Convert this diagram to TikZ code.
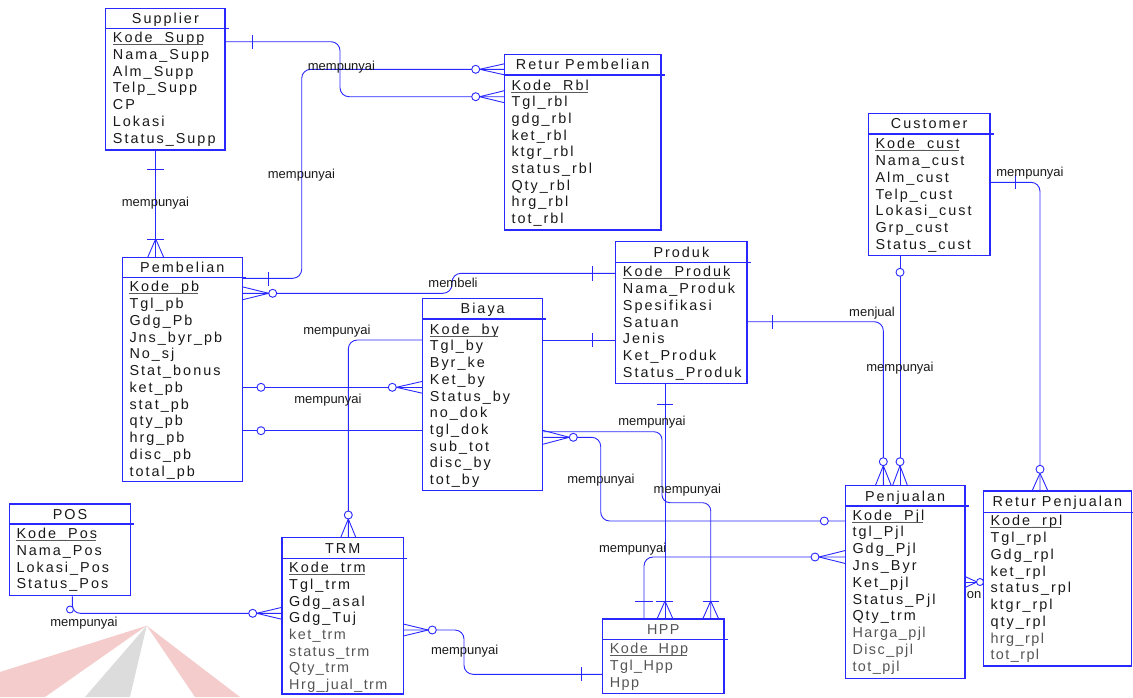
\documentclass[tikz,border=0pt]{standalone}
\usepackage{fontspec}
\setmainfont{Liberation Sans}
\newfontfamily\entfont[LetterSpace=14]{Liberation Sans}
\newfontfamily\entfontg[LetterSpace=10]{Liberation Sans}
\newfontfamily\lblfont{Liberation Sans}
\usetikzlibrary{fit}
\definecolor{boxblue}{RGB}{40,40,255}
\definecolor{lineblue}{RGB}{40,40,255}
\definecolor{txtdark}{RGB}{25,25,25}
\definecolor{attrgray}{RGB}{85,85,85}
\definecolor{ulgray}{RGB}{90,90,90}
\definecolor{wmred}{RGB}{236,170,170}
\definecolor{wmgray}{RGB}{205,205,205}
\newcommand{\gry}{\color{attrgray}\entfontg\fontsize{14.4}{16}\selectfont}
\newcommand{\entity}[7]{%
  \node[ebox, fit={(#2,#3) (#4,#5)}] (#1) {};
  \draw[eline] (#2,#6) -- ({#4+3.5},#6);
  \node[etitle] (#1-t) at ({(#2+#4)/2},{(#3+#6)/2+5.2}) {#7};
}
\newcommand{\attrs}[5]{%
  \foreach \aname [count=\i] in {#5} {
    \node[eattr] (#1-\i) at (#2,{#3+5.2+(\i-1)*#4}) {\aname};
  }
  \draw[uline] ([yshift=-1.8pt]#1-1.base west) -- ([yshift=-1.8pt,xshift=-1pt]#1-1.base east);
}
\newcommand{\crowh}[4]{\draw[rel] (#1,#2) -- (#3,{#2-#4}) (#1,#2) -- (#3,{#2+#4});}
\newcommand{\crowv}[4]{\draw[rel] (#1,#2) -- ({#1-#4},#3) (#1,#2) -- ({#1+#4},#3);}
\begin{document}
\begin{tikzpicture}[x=1pt,y=-1pt,
  ebox/.style={draw=boxblue, line width=1.1pt, inner sep=0pt},
  eline/.style={draw=boxblue, line width=1.1pt},
  etitle/.style={anchor=base, inner sep=0pt, text=txtdark, font=\entfont\fontsize{14.4}{16}\selectfont},
  eattr/.style={anchor=base west, inner sep=0pt, text=txtdark, font=\entfont\fontsize{14.4}{16}\selectfont},
  uline/.style={draw=ulgray, line width=0.8pt},
  rel/.style={draw=lineblue, line width=0.9pt},
  relr/.style={rel, rounded corners=9pt},
  oo/.style={circle, draw=lineblue, line width=0.9pt, fill=white, minimum size=8pt, inner sep=0pt},
  lbl/.style={anchor=base, inner sep=0pt, text=txtdark, font=\lblfont\fontsize{13}{14}\selectfont}]
\useasboundingbox (0,0) rectangle (1133,697);
% faint watermark
\fill[wmred, opacity=0.6] (0,672) -- (146.7,625.7) -- (45,697) -- (0,697) -- cycle;
\fill[wmgray, opacity=0.7] (146.7,625.7) -- (85,697) -- (130,697) -- cycle;
\fill[wmred, opacity=0.6] (146.7,625.7) -- (195,697) -- (240,697) -- cycle;
% entities
\entity{sup}{105.7}{8.3}{225}{150}{28.3}{Supplier}
\attrs{sup}{112.7}{37.3}{16.83}{Kode\_Supp,Nama\_Supp,Alm\_Supp,Telp\_Supp,CP,Lokasi,Status\_Supp}
\entity{rpb}{504.3}{54.3}{661}{230}{75}{Retur Pembelian}
\attrs{rpb}{511.3}{85}{16.67}{Kode\_Rbl,Tgl\_rbl,gdg\_rbl,ket\_rbl,ktgr\_rbl,status\_rbl,Qty\_rbl,hrg\_rbl,tot\_rbl}
\entity{prd}{615.7}{241.7}{747}{383.3}{262.3}{Produk}
\attrs{prd}{622.7}{271.7}{16.72}{Kode\_Produk,Nama\_Produk,Spesifikasi,Satuan,Jenis,Ket\_Produk,Status\_Produk}
\entity{cus}{868.3}{113.3}{990}{255.7}{134}{Customer}
\attrs{cus}{875.3}{143.7}{16.72}{Kode\_cust,Nama\_cust,Alm\_cust,Telp\_cust,Lokasi\_cust,Grp\_cust,Status\_cust}
\entity{pbl}{122.3}{257.3}{242.3}{481.7}{277.7}{Pembelian}
\attrs{pbl}{129.3}{286.7}{16.75}{Kode\_pb,Tgl\_pb,Gdg\_Pb,Jns\_byr\_pb,No\_sj,Stat\_bonus,ket\_pb,stat\_pb,qty\_pb,hrg\_pb,disc\_pb,total\_pb}
\entity{bia}{422.7}{298.3}{542.7}{490.7}{319}{Biaya}
\attrs{bia}{429.7}{329}{16.7}{Kode\_by,Tgl\_by,Byr\_ke,Ket\_by,Status\_by,no\_dok,tgl\_dok,sub\_tot,disc\_by,tot\_by}
\entity{pos}{9.3}{504}{130.7}{595.7}{524}{POS}
\attrs{pos}{16.3}{533.3}{16.8}{Kode\_Pos,Nama\_Pos,Lokasi\_Pos,Status\_Pos}
\entity{trm}{282}{537.3}{403.3}{694}{558.3}{TRM}
\attrs{trm}{289}{567.7}{16.67}{Kode\_trm,Tgl\_trm,Gdg\_asal,Gdg\_Tuj,{\gry ket\_trm},{\gry status\_trm},{\gry Qty\_trm},{\gry Hrg\_jual\_trm}}
\entity{hpp}{602.7}{619}{724}{693.3}{639.3}{{\gry HPP}}
\attrs{hpp}{609.7}{648.3}{17.2}{{\gry Kode\_Hpp},{\gry Tgl\_Hpp},{\gry Hpp}}
\entity{pjl}{845.3}{485.7}{965}{678.3}{506}{Penjualan}
\attrs{pjl}{852.3}{515}{16.78}{Kode\_Pjl,tgl\_Pjl,Gdg\_Pjl,Jns\_Byr,Ket\_pjl,Status\_Pjl,Qty\_trm,{\gry Harga\_pjl},{\gry Disc\_pjl},{\gry tot\_pjl}}
\entity{rpj}{983.3}{491}{1131.6}{666}{512.3}{Retur Penjualan}
\attrs{rpj}{990.3}{520.7}{16.75}{Kode\_rpl,Tgl\_rpl,Gdg\_rpl,ket\_rpl,status\_rpl,ktgr\_rpl,qty\_rpl,{\gry hrg\_rpl},{\gry tot\_rpl}}
% C1 Supplier - Retur Pembelian
\draw[relr] (sup.east |- 0,41.7) -- (340,41.7) -- (340,96.7) -- (rpb.west |- 0,96.7);
\draw[rel] (252,34.5) -- (252,48.5);
\crowh{479.7}{96.7}{504.3}{6}
\node[oo] (o1) at (475.7,96.7) {};
% C2 Pembelian - Retur Pembelian
\draw[relr] (pbl.east |- 0,278.3) -- (301.7,278.3) -- (301.7,69.3) -- (rpb.west |- 0,69.3);
\draw[rel] (268.3,272) -- (268.3,285.5);
\crowh{479.7}{69.3}{504.3}{5.5}
\node[oo] (o2) at (475.7,69.3) {};
% C3 Supplier - Pembelian
\draw[rel] (sup.south -| 155.7,0) -- (pbl.north -| 155.7,0);
\draw[rel] (147,169.3) -- (164.3,169.3) (147,239) -- (164.3,239);
\crowv{155.7}{239}{257.3}{8}
% C4 membeli
\draw[relr] (pbl.east |- 0,293.3) -- (452,293.3) -- (452,273.3) -- (prd.west |- 0,273.3);
\crowh{268.7}{293.3}{242.3}{6.5}
\node[oo] (o4) at (272.7,293.3) {};
\draw[rel] (592.7,266) -- (592.7,281);
% C5
\draw[rel] (pbl.east |- 0,387.3) -- (bia.west |- 0,387.3);
\node[oo] (o5a) at (261,387.3) {};
\crowh{396.3}{387.3}{422.7}{6}
\node[oo] (o5b) at (392.3,387.3) {};
% C6
\draw[rel] (pbl.east |- 0,430.7) -- (bia.west |- 0,430.7);
\node[oo] (o6) at (261,430.7) {};
% C7 TRM - Biaya
\draw[relr] (trm.north -| 348.3,0) -- (348.3,340) -- (bia.west |- 0,340);
\crowv{348.3}{519}{537.3}{7.5}
\node[oo] (o7) at (348.3,515) {};
% C8 Biaya - Produk
\draw[rel] (bia.east |- 0,340) -- (prd.west |- 0,340);
\draw[rel] (592.3,333) -- (592.3,347);
% C9 Biaya - HPP
\draw[rel, rounded corners=8pt] (bia.east |- 0,431.7) -- (662,431.7) -- (662,502.7) -- (710.7,502.7) -- (hpp.north -| 710.7,0);
\draw[rel] (702.5,601) -- (719,601);
\crowv{710.7}{601}{619}{8}
% C10 Produk - HPP
\draw[rel] (prd.south -| 665,0) -- (hpp.north -| 665,0);
\draw[rel] (657,404) -- (673,404) (656,601) -- (673,601);
\crowv{665}{601}{619}{8}
% C11 Biaya - Penjualan
\draw[relr] (bia.east |- 0,437.3) -- (600.7,437.3) -- (600.7,521) -- (pjl.west |- 0,521);
\crowh{569.3}{437.3}{542.7}{7}
\node[oo] (o11a) at (573.3,437.3) {};
\node[oo] (o11b) at (824.3,521) {};
% C12 Penjualan - HPP
\draw[relr] (pjl.west |- 0,557) -- (644,557) -- (hpp.north -| 644,0);
\crowh{819}{557}{845.3}{6.5}
\node[oo] (o12) at (815,557) {};
\draw[rel] (635,601) -- (652.5,601);
% C13 menjual
\draw[relr] (prd.east |- 0,321.7) -- (883.3,321.7) -- (pjl.north -| 883.3,0);
\draw[rel] (772.3,315) -- (772.3,329);
\crowv{883.3}{465.7}{485.7}{8}
\node[oo] (o13) at (883.3,461.7) {};
% C14 Customer - Penjualan
\draw[rel] (cus.south -| 900,0) -- (pjl.north -| 900,0);
\node[oo] (o14a) at (900,272.3) {};
\crowv{900}{465.7}{485.7}{7.5}
\node[oo] (o14b) at (900,461.7) {};
% C15 Customer - Retur Penjualan
\draw[relr] (cus.east |- 0,182.3) -- (1040,182.3) -- (rpj.north -| 1040,0);
\draw[rel] (1015,175) -- (1015,188.5);
\crowv{1040}{473.3}{491}{8}
\node[oo] (o15) at (1040,469.3) {};
% C16 Penjualan - Retur Penjualan
\draw[rel] (pjl.east |- 0,582) -- (rpj.west |- 0,582);
\crowh{977}{582}{965}{5.5}
\node[oo, minimum size=7pt] (o16) at (980,582) {};
% C17 POS - TRM
\draw[rel, rounded corners=8pt] (pos.south -| 72.3,0) -- (72.3,613.3) -- (trm.west |- 0,613.3);
\node[oo, minimum size=7pt] (o17a) at (70,609.5) {};
\crowh{256.7}{613.3}{282}{6}
\node[oo] (o17b) at (252.7,613.3) {};
% C18 TRM - HPP
\draw[relr] (trm.east |- 0,630) -- (464,630) -- (464,674.3) -- (hpp.west |- 0,674.3);
\crowh{428.3}{630}{403.3}{6}
\node[oo] (o18) at (432.3,630) {};
\draw[rel] (581,667) -- (581,681);
% labels
\node[lbl] (l1) at (341.5,70.7) {mempunyai};
\node[lbl] (l2) at (301.5,178) {mempunyai};
\node[lbl] (l3) at (155.5,206) {mempunyai};
\node[lbl] (l4) at (453,287) {membeli};
\node[lbl] (l5) at (337,334.4) {mempunyai};
\node[lbl] (l6) at (328,403.7) {mempunyai};
\node[lbl] (l7) at (652,425.4) {mempunyai};
\node[lbl] (l8) at (601,483.7) {mempunyai};
\node[lbl] (l9) at (687.3,493.7) {mempunyai};
\node[lbl] (l10) at (632.7,552) {mempunyai};
\node[lbl] (l11) at (872,316) {menjual};
\node[lbl] (l12) at (900,371) {mempunyai};
\node[lbl] (l13) at (1030,176.4) {mempunyai};
\node[lbl] (l14) at (84,626.4) {mempunyai};
\node[lbl] (l15) at (464.7,654.7) {mempunyai};
\node[lbl] (l16) at (974,598.7) {on};
\end{tikzpicture}
\end{document}
